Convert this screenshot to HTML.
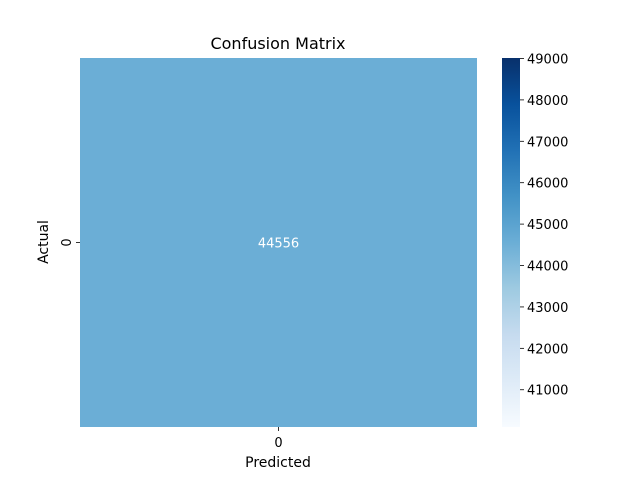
<!DOCTYPE html>
<html><head><meta charset="utf-8"><style>
body{margin:0;background:#fff}
svg{font-family:"DejaVu Sans","Liberation Sans",sans-serif}
</style></head><body>
<svg width="640" height="480" viewBox="0 0 640 480">
<defs>
<linearGradient id="blues" x1="0" y1="1" x2="0" y2="0">
<stop offset="0" stop-color="#f7fbff"/><stop offset="0.125" stop-color="#deebf7"/>
<stop offset="0.25" stop-color="#c6dbef"/><stop offset="0.375" stop-color="#9ecae1"/>
<stop offset="0.5" stop-color="#6baed6"/><stop offset="0.625" stop-color="#4292c6"/>
<stop offset="0.75" stop-color="#2171b5"/><stop offset="0.875" stop-color="#08519c"/>
<stop offset="1" stop-color="#08306b"/></linearGradient>
</defs>
<text x="278" y="49" font-size="16" text-anchor="middle">Confusion Matrix</text>
<g id="heat"></g>
<g id="cbar"></g>
<text x="278" y="467" font-size="14" text-anchor="middle">Predicted</text>
<text transform="translate(48,242) rotate(-90)" font-size="14" text-anchor="middle">Actual</text>
</svg>
<script>
const rowLabels=["0"];
const colLabels=["0"];
const values=[[44556]];
const cbarTicks=[41000,42000,43000,44000,45000,46000,47000,48000,49000];
const vmin=40100.4, vmax=49011.6;
const NS="http://www.w3.org/2000/svg";
const hx0=80,hx1=477,hy0=58,hy1=427;
const cx0=502,cx1=520;
function yScale(v){return hy1-(v-vmin)/(vmax-vmin)*(hy1-hy0);}
const blues=["#f7fbff","#deebf7","#c6dbef","#9ecae1","#6baed6","#4292c6","#2171b5","#08519c","#08306b"];
function hex(c){return [1,3,5].map(i=>parseInt(c.substr(i,2),16));}
function color(v){let t=Math.max(0,Math.min(1,(v-vmin)/(vmax-vmin)))*8;let i=Math.min(7,Math.floor(t)),f=t-i;
const a=hex(blues[i]),b=hex(blues[i+1]);return "rgb("+a.map((x,k)=>Math.round(x+(b[k]-x)*f)).join(",")+")";}
function mk(tag,attrs,parent){const e=document.createElementNS(NS,tag);for(const k in attrs)e.setAttribute(k,attrs[k]);parent.appendChild(e);return e;}
const heat=document.getElementById("heat");
const cw=(hx1-hx0)/colLabels.length,ch=(hy1-hy0)/rowLabels.length;
rowLabels.forEach((r,i)=>{colLabels.forEach((c,j)=>{
 const v=values[i][j];
 const rect=mk("rect",{x:hx0+j*cw,y:hy0+i*ch,width:cw,height:ch,fill:color(v)},heat);
 
 
 const t=mk("text",{x:hx0+(j+0.5)*cw,y:hy0+(i+0.5)*ch+5,"font-size":13,"text-anchor":"middle",fill:"#fff"},heat);
 t.textContent=v;
 
 
});});
colLabels.forEach((c,j)=>{const x=hx0+(j+0.5)*cw;
 const tk=mk("line",{x1:x,x2:x,y1:hy1,y2:hy1+4,stroke:"#000","stroke-width":0.8},heat);
 
 
 const t=mk("text",{x:x,y:hy1+20,"font-size":13,"text-anchor":"middle"},heat);t.textContent=c;
 
 
});
rowLabels.forEach((r,i)=>{const y=hy0+(i+0.5)*ch;
 const tk=mk("line",{x1:hx0-4,x2:hx0,y1:y,y2:y,stroke:"#000","stroke-width":0.8},heat);
 
 
 const t=mk("text",{transform:"translate("+(hx0-9)+","+y+") rotate(-90)","font-size":13,"text-anchor":"middle"},heat);t.textContent=r;
 
 
});
const cb=document.getElementById("cbar");
const bar=mk("rect",{x:cx0,y:hy0,width:cx1-cx0,height:hy1-hy0,fill:"url(#blues)"},cb);


cbarTicks.forEach(v=>{const y=yScale(v);
 const tk=mk("line",{x1:cx1,x2:cx1+4,y1:y,y2:y,stroke:"#000","stroke-width":0.8},cb);
 
 
 const t=mk("text",{x:cx1+7,y:y+5,"font-size":13},cb);t.textContent=v;
 
 
});
</script>
</body></html>
